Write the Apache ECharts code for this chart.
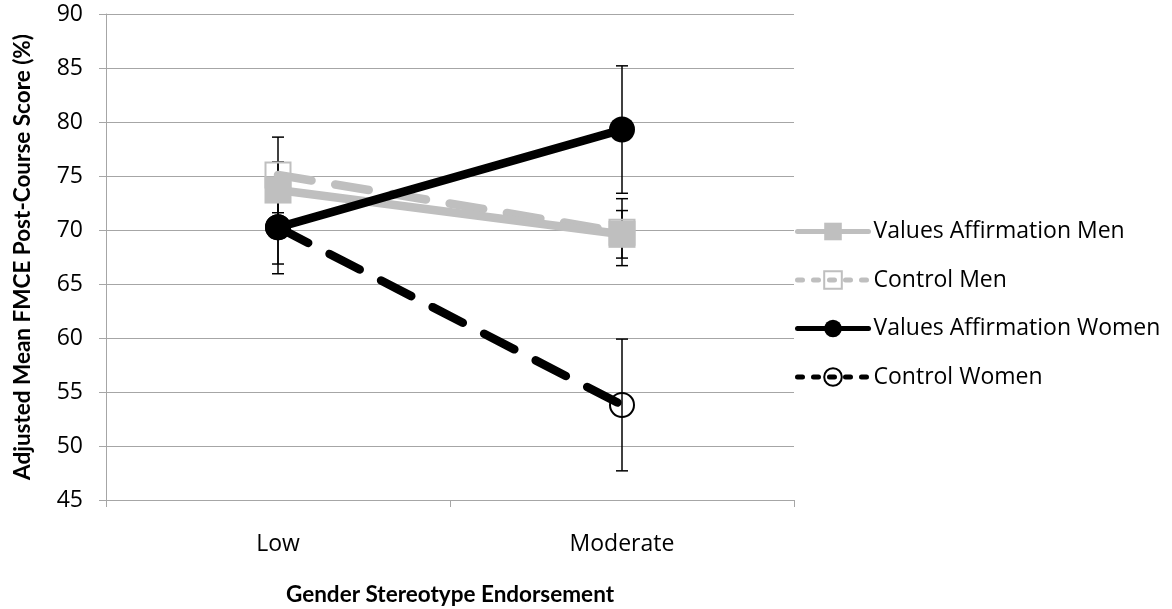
<!DOCTYPE html>
<html>
<head>
<meta charset="utf-8">
<script src="https://cdn.jsdelivr.net/npm/echarts@6/dist/echarts.min.js"></script>
<style>
  html, body { margin: 0; padding: 0; background: #fff; }
  #chart { width: 1172px; height: 609px; }
</style>
</head>
<body>
<div id="chart"></div>
<script>
// Categories and values (adjusted mean FMCE post-course score, %)
const categories = ['Low', 'Moderate'];
const yTicks = { min: 45, max: 90, step: 5 };

const seriesNames = ['Values Affirmation Men', 'Control Men', 'Values Affirmation Women', 'Control Women'];
const vaMen = [73.7, 69.6];
const ctrlMen = [75.1, 69.8];
const vaWomen = [70.25, 79.3];
const ctrlWomen = [70.25, 53.8];

// Half-width of each error bar (±)
const vaMenErr = [2.6, 2.2];
const ctrlMenErr = [3.5, 3.1];
const vaWomenErr = [3.4, 5.9];
const ctrlWomenErr = [4.3, 6.1];

const GRAY = '#bfbfbf';
const BLACK = '#000000';
const AXIS_GRAY = '#a6a6a6';
const FONT = '"Open Sans", Lato, sans-serif';
const BOLD_FONT = 'Lato, "Open Sans", sans-serif';

function errorRows(values, errs) {
  return values.map((v, i) => [i, v - errs[i], v + errs[i]]);
}

const errorData = []
  .concat(errorRows(vaMen, vaMenErr))
  .concat(errorRows(ctrlMen, ctrlMenErr))
  .concat(errorRows(vaWomen, vaWomenErr))
  .concat(errorRows(ctrlWomen, ctrlWomenErr));

function renderErrorBar(params, api) {
  const x = api.value(0);
  const lo = api.coord([x, api.value(1)]);
  const hi = api.coord([x, api.value(2)]);
  const half = 6;
  const style = { stroke: BLACK, lineWidth: 1.5 };
  return {
    type: 'group',
    children: [
      { type: 'line', shape: { x1: hi[0], y1: hi[1], x2: lo[0], y2: lo[1] }, style },
      { type: 'line', shape: { x1: hi[0] - half, y1: hi[1], x2: hi[0] + half, y2: hi[1] }, style },
      { type: 'line', shape: { x1: lo[0] - half, y1: lo[1], x2: lo[0] + half, y2: lo[1] }, style }
    ]
  };
}

const LINE_W = 8.5;
const DASH = [34, 24];
const LEGEND_DASH = [5, 11];

const chart = echarts.init(document.getElementById('chart'), null, { renderer: 'canvas' });

chart.setOption({
  animation: false,
  backgroundColor: '#ffffff',
  grid: { left: 106, right: 378, top: 14, bottom: 109, containLabel: false, outerBoundsMode: 'none' },
  legend: {
    orient: 'vertical',
    left: 795,
    top: 220,
    padding: 0,
    itemWidth: 71,
    itemHeight: 22,
    itemGap: 25.5,
    lineStyle: { width: 5, cap: 'round' },
    textStyle: { fontFamily: FONT, fontSize: 23, color: '#000' },
    data: [
      { name: seriesNames[0] },
      { name: seriesNames[1], lineStyle: { type: LEGEND_DASH } },
      { name: seriesNames[2] },
      { name: seriesNames[3], lineStyle: { type: LEGEND_DASH } }
    ]
  },
  xAxis: {
    type: 'category',
    data: categories,
    boundaryGap: true,
    axisLine: { lineStyle: { color: AXIS_GRAY, width: 1 } },
    axisTick: { show: true, length: 7, lineStyle: { color: AXIS_GRAY } },
    axisLabel: { margin: 33, fontFamily: FONT, fontSize: 23, color: '#000' },
    name: 'Gender Stereotype Endorsement',
    nameLocation: 'middle',
    nameGap: 83,
    nameTextStyle: { fontFamily: BOLD_FONT, fontSize: 22.5, fontWeight: 'bold', color: '#000' }
  },
  yAxis: {
    type: 'value',
    min: yTicks.min,
    max: yTicks.max,
    interval: yTicks.step,
    axisLine: { show: true, lineStyle: { color: AXIS_GRAY, width: 1 } },
    axisTick: { show: true, length: 7, lineStyle: { color: AXIS_GRAY } },
    splitLine: { show: true, lineStyle: { color: AXIS_GRAY, width: 1 } },
    axisLabel: { margin: 23, fontFamily: FONT, fontSize: 23, color: '#000' },
    name: 'Adjusted Mean FMCE Post-Course Score (%)',
    nameLocation: 'middle',
    nameGap: 72,
    nameRotate: 90,
    nameTextStyle: { fontFamily: BOLD_FONT, fontSize: 22.5, fontWeight: 'bold', color: '#000' }
  },
  series: [
    {
      type: 'custom',
      name: 'errors',
      renderItem: renderErrorBar,
      data: errorData,
      encode: { x: 0, y: [1, 2] },
      z: 1,
      silent: true
    },
    {
      name: seriesNames[1],
      type: 'line',
      data: ctrlMen,
      symbol: 'rect',
      symbolSize: 25,
      lineStyle: { color: GRAY, width: LINE_W, type: DASH, cap: 'round' },
      itemStyle: { color: 'rgba(255,255,255,0)', borderColor: GRAY, borderWidth: 2 },
      z: 2
    },
    {
      name: seriesNames[0],
      type: 'line',
      data: vaMen,
      symbol: 'rect',
      symbolSize: 27,
      lineStyle: { color: GRAY, width: LINE_W, cap: 'round' },
      itemStyle: { color: GRAY, borderWidth: 0 },
      z: 3
    },
    {
      name: seriesNames[2],
      type: 'line',
      data: vaWomen,
      symbol: 'circle',
      symbolSize: 26,
      lineStyle: { color: BLACK, width: LINE_W, cap: 'round' },
      itemStyle: { color: BLACK, borderWidth: 0 },
      z: 4
    },
    {
      name: seriesNames[3],
      type: 'line',
      data: ctrlWomen,
      symbol: 'circle',
      symbolSize: 24,
      lineStyle: { color: BLACK, width: LINE_W, type: DASH, cap: 'round' },
      itemStyle: { color: 'rgba(255,255,255,0)', borderColor: BLACK, borderWidth: 2 },
      z: 5
    }
  ]
});
</script>
</body>
</html>
